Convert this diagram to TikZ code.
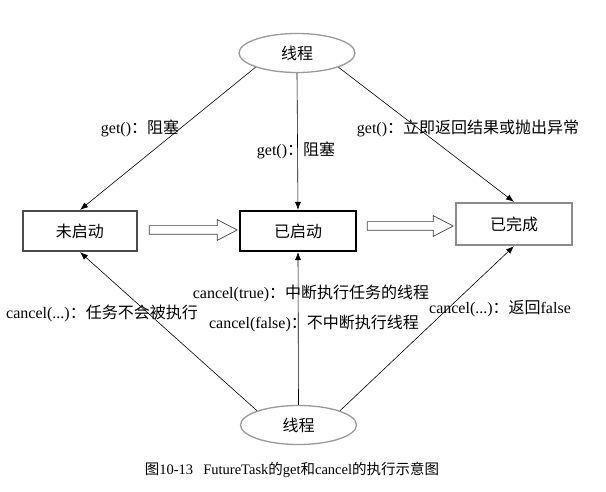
\documentclass[tikz,border=0pt]{standalone}
\usepackage{fontspec}
\setmainfont{Liberation Serif}
\newfontfamily\cjk{Noto Sans CJK SC}
\usetikzlibrary{shapes.geometric, shapes.arrows, arrows.meta}
\newcommand{\zhtext}[1]{{\cjk #1}}

\begin{document}
\begin{tikzpicture}[x=1pt, y=-1pt, >={Latex[length=8pt, width=6pt]}, line width=0.6pt,
    thread/.style={ellipse, draw=black!40, line width=1.3pt, minimum width=116pt, minimum height=39pt, inner sep=0pt, font=\fontsize{16}{19}\selectfont\cjk},
    state/.style={rectangle, line width=2.2pt, minimum width=116pt, minimum height=40pt, inner sep=0pt, fill=white, font=\fontsize{16}{19}\selectfont\cjk},
    hollow/.style={single arrow, draw=black!75, line width=0.7pt, fill=white, inner sep=4pt, single arrow head extend=6pt, single arrow tip angle=55},
    lbl/.style={inner sep=0pt, font=\fontsize{16}{19}\selectfont}]
    \useasboundingbox (0, 0) rectangle (606, 492);

    % threads
    \node [thread] (top) at (297, 53) {线程};
    \node [thread] (bot) at (298.5, 425) {线程};

    % states
    \node [state, draw=black!70, minimum width=114pt] (new) at (80, 231) {未启动};
    \node [state, draw=black] (run) at (298, 231) {已启动};
    \node [state, draw=black!45, minimum height=42pt] (done) at (514, 224) {已完成};

    % state changes
    \node [hollow, minimum height=88pt] (step1) at (189, 230) {};
    \node [hollow, minimum height=86pt] (step2) at (406, 226) {};

    % get()
    \draw [->] (top.south west) -- (new.north);
    \draw [->] (top.south) -- (run.north);
    \draw [->] (top.south east) -- (done.north);

    % cancel()
    \draw [->] (bot.north west) -- (new.south);
    \draw [->] (bot.north) -- (run.south);
    \draw [->] (bot.north east) -- (done.south);

    % labels
    \node [lbl] (getnew)  at (140, 128) {get()\zhtext{：阻塞}};
    \node [lbl] (getrun)  at (296, 150) {get()\zhtext{：阻塞}};
    \node [lbl] (getdone) at (468, 128) {get()\zhtext{：立即返回结果或抛出异常}};
    \node [lbl] (cannew)  at (102, 313) {cancel(...)\zhtext{：任务不会被执行}};
    \node [lbl] (cantrue) at (311, 293) {cancel(true)\zhtext{：中断执行任务的线程}};
    \node [lbl] (canfalse) at (314, 323) {cancel(false)\zhtext{：不中断执行线程}};
    \node [lbl] (candone) at (500, 309) {cancel(...)\zhtext{：返回}false};

    % caption
    \node [inner sep=0pt, font=\fontsize{14.5}{17}\selectfont] (caption) at (292, 470)
        {\zhtext{图}10-13\hspace{0.7em}FutureTask\zhtext{的}get\zhtext{和}cancel\zhtext{的执行示意图}};
\end{tikzpicture}
\end{document}
